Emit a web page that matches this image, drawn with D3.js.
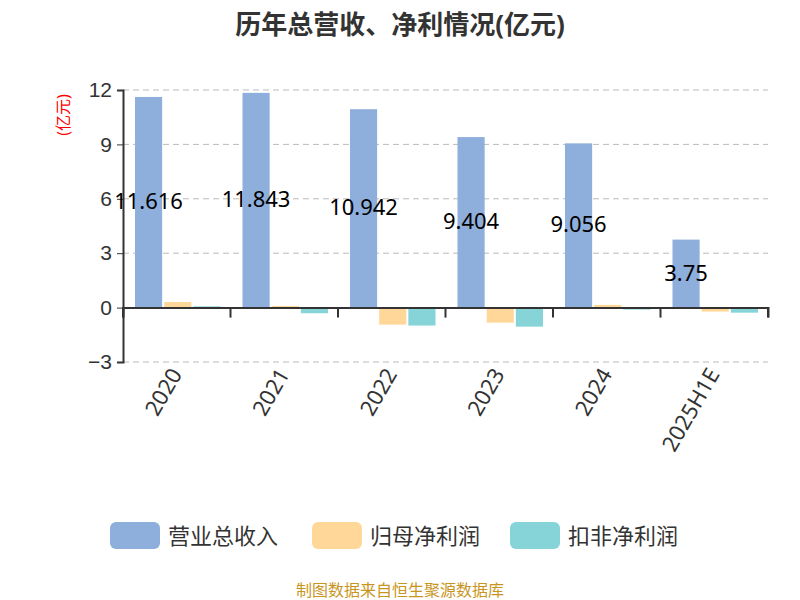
<!DOCTYPE html>
<html><head><meta charset="utf-8">
<script src="https://cdn.jsdelivr.net/npm/d3@7"></script>
<style>body{margin:0;background:#fff;font-family:"Noto Sans","Noto Sans CJK SC",sans-serif}</style>
</head><body><svg id="c" width="800" height="600"></svg>
<script>
const categories = ['2020','2021','2022','2023','2024','2025H1E'];
const revenue = [11.616, 11.843, 10.942, 9.404, 9.056, 3.75];
const netProfit = [0.31, 0.09, -0.94, -0.83, 0.15, -0.22];
const deducted = [0.07, -0.31, -0.99, -1.05, -0.11, -0.28];
const yTicks = [-3, 0, 3, 6, 9, 12];
const seriesNames = ['营业总收入', '归母净利润', '扣非净利润'];
const colors = ['#8eaedc', '#ffd899', '#86d4d8'];

const svg = d3.select('#c');
const x = d3.scaleBand().domain(categories).range([123, 768]);
const y = d3.scaleLinear().domain([-3, 12]).range([362, 90]);

svg.append('text').attr('x', 400).attr('y', 34).attr('text-anchor', 'middle')
  .style('font-size', '26px').style('font-weight', 'bold').attr('fill', '#333').text('历年总营收、净利情况(亿元)');

// grid
svg.append('g').selectAll('line').data(yTicks.filter(d => d !== 0)).join('line')
  .attr('x1', 123).attr('x2', 768).attr('y1', d => y(d)).attr('y2', d => y(d))
  .attr('stroke', '#bbb').attr('stroke-dasharray', '6,4');

// y axis
const ya = svg.append('g').attr('transform', 'translate(123,0)')
  .call(d3.axisLeft(y).tickValues(yTicks).tickSize(6));
ya.select('.domain').attr('stroke', '#333').attr('stroke-width', 2);
ya.selectAll('line').attr('stroke', '#333');
ya.selectAll('text').style('font-size', '21px').attr('fill', '#333').attr('dx', '-2');

svg.append('text').attr('transform', 'translate(69,115) rotate(-90)').attr('text-anchor', 'middle')
  .style('font-size', '16px').attr('fill', 'red').text('(亿元)');

const sub = d3.scaleBand().domain([0, 1, 2]).range([12, x.bandwidth() - 10]).paddingInner(0.07);
const series = [revenue, netProfit, deducted];
series.forEach((vals, si) => {
  svg.append('g').selectAll('rect').data(vals).join('rect')
    .attr('x', (d, i) => x(categories[i]) + sub(si))
    .attr('width', sub.bandwidth())
    .attr('y', d => y(Math.max(0, d)))
    .attr('height', d => Math.abs(y(d) - y(0)))
    .attr('fill', colors[si]);
});

// x axis at zero
const xa = svg.append('g').attr('transform', `translate(0,${y(0)})`)
  .call(d3.axisBottom(x).tickSize(10).tickFormat(''));
xa.select('.domain').attr('stroke', '#333').attr('stroke-width', 2);
xa.selectAll('line').attr('stroke', '#333').attr('stroke-width', 2).attr('transform', `translate(${-x.bandwidth() / 2},0)`);
svg.append('line').attr('x1', 768).attr('x2', 768).attr('y1', y(0)).attr('y2', y(0) + 10).attr('stroke', '#333').attr('stroke-width', 2);

// category labels
svg.append('g').selectAll('text').data(categories).join('text')
  .attr('transform', d => `translate(${x(d) + x.bandwidth() / 2 + 6},374) rotate(-60)`)
  .attr('text-anchor', 'end').style('font-size', '22px').attr('fill', '#333').text(d => d);

// value labels
svg.append('g').selectAll('text').data(revenue).join('text')
  .attr('x', (d, i) => x(categories[i]) + sub(0) + sub.bandwidth() / 2)
  .attr('y', d => (y(d) + y(0)) / 2 + 7)
  .attr('text-anchor', 'middle').style('font-size', '22px').attr('fill', '#000').text(d => d);

// legend
const lg = svg.append('g');
const lx = [110, 312, 510];
seriesNames.forEach((n, i) => {
  lg.append('rect').attr('x', lx[i]).attr('y', 522).attr('width', 50).attr('height', 27).attr('rx', 6).attr('fill', colors[i]);
  lg.append('text').attr('x', lx[i] + 58).attr('y', 544).style('font-size', '22px').attr('fill', '#333').text(n);
});

svg.append('text').attr('x', 400).attr('y', 596).attr('text-anchor', 'middle')
  .style('font-size', '16px').attr('fill', '#c8961e').text('制图数据来自恒生聚源数据库');
</script></body></html>
